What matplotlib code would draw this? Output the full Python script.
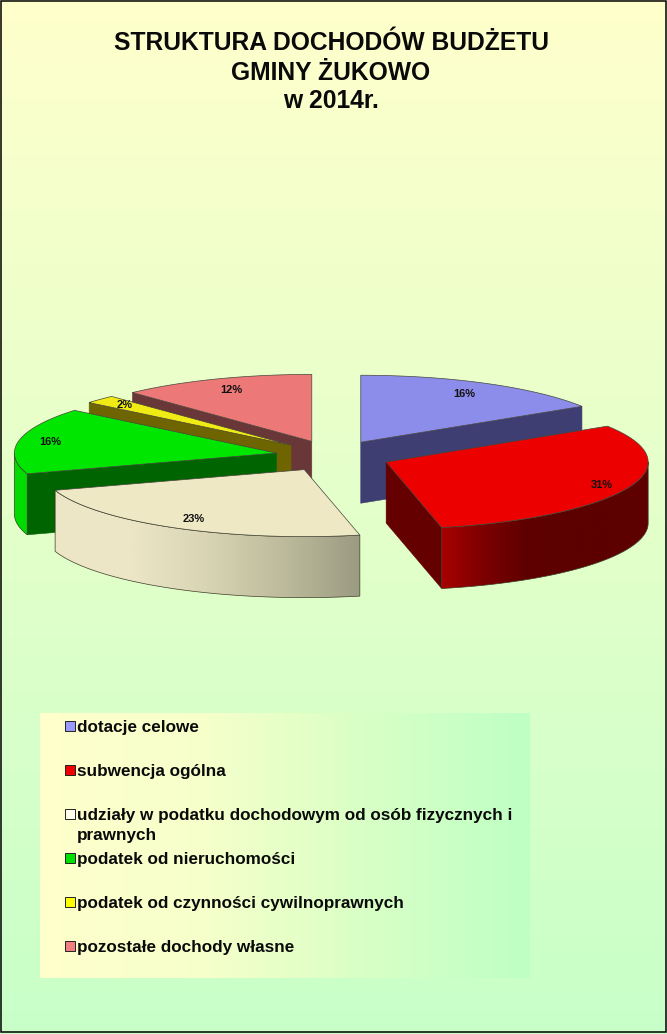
import numpy as np
import matplotlib
matplotlib.use("Agg")
import matplotlib.pyplot as plt
from matplotlib.patches import Polygon, Rectangle
from matplotlib.colors import LinearSegmentedColormap

plt.rcParams['font.family'] = ['Liberation Sans', 'DejaVu Sans']

W, H = 667, 1034

title_lines = ["STRUKTURA DOCHODÓW BUDŻETU", "GMINY ŻUKOWO", "w 2014r."]
categories = ["dotacje celowe", "subwencja ogólna",
              "udziały w podatku dochodowym od osób fizycznych i\nprawnych",
              "podatek od nieruchomości", "podatek od czynności cywilnoprawnych",
              "pozostałe dochody własne"]
values = [16.0, 30.6, 23.4, 16.0, 2.0, 12.0]

top_colors = ["#8C8CEB", "#EC0000", "#EEE8C4", "#00E600", "#F0EB14", "#EC7878"]
wall_colors = ["#3E3E73", "#640000", "#A0A082", "#006400", "#6E6400", "#693737"]
rim_stops = [["#3E3E73", "#3E3E73"],
             ["#A80000", "#7C0000", "#600000", "#5C0000", "#5C0000", "#600000"],
             ["#ECE6C6", "#ECE6C6", "#D8D4B4", "#BDBB9C", "#9B9B82"],
             ["#00DC00", "#00DC00"],
             ["#6E6400", "#6E6400"],
             ["#693737", "#693737"]]
swatch_colors = ["#9999FF", "#F00000", "#FFFFF0", "#00E000", "#FFFF00", "#F08080"]
label_r = [0.82, 0.89, 0.85, 0.88, 0.87, 0.83]
draw_order = [0, 5, 4, 3, 1, 2]

# projection of the pie on the page (pixels)
CX, CY = 333, 456          # pie centre
AX, BX = 262, 67           # ellipse semi-axes
EX, EY = 57.6, 15.7        # explosion offset
DEPTH = 61

fig = plt.figure(figsize=(W / 100, H / 100), dpi=100)
ax = fig.add_axes([0, 0, 1, 1])
ax.set_axis_off()


def gradient(extent, stops, horizontal, zorder, clip=None):
    cmap = LinearSegmentedColormap.from_list("g", stops)
    ramp = np.linspace(0, 1, 256)
    arr = ramp[None, :] if horizontal else ramp[:, None]
    im = ax.imshow(arr, extent=extent, cmap=cmap, aspect='auto', zorder=zorder,
                   interpolation='bilinear', vmin=0, vmax=1)
    if clip is not None:
        im.set_clip_path(clip)
    return im


# page background and frame
gradient((0, W, H, 0), ["#FFFFCC", "#C8FFC8"], False, 0)
# legend panel
gradient((40, 530, 978, 713), ["#FFFFCC", "#F6FFCA", "#D8FFC6", "#BEFFC4"], True, 1)

shares = np.array(values) / sum(values) * 360
ends = np.cumsum(shares)
starts = ends - shares


def pt(theta_deg, r=1.0):
    t = np.radians(theta_deg)
    return np.sin(t) * AX * r, -np.cos(t) * BX * r


z = 2
for i in draw_order:
    s, e = starts[i], ends[i]
    m = np.radians((s + e) / 2)
    ox, oy = CX + EX * np.sin(m), CY - EY * np.cos(m)
    th = np.linspace(s, e, 160)
    dx, dy = pt(th)
    arc = np.column_stack([ox + dx, oy + dy])
    apex = np.array([ox, oy])

    # cut walls facing the viewer
    for ang, vis in ((s, np.sin(np.radians(s)) < 0), (e, np.sin(np.radians(e)) > 0)):
        if vis:
            cx_, cy_ = pt(ang)
            c = apex + [cx_, cy_]
            ax.add_patch(Polygon([apex, c, c + [0, DEPTH], apex + [0, DEPTH]], closed=True,
                                 facecolor=wall_colors[i], edgecolor=wall_colors[i], lw=0.4, zorder=z))
            z += 0.1

    # outer rim, front half only
    lo, hi = max(s, 90), min(e, 270)
    if hi > lo:
        tr = np.linspace(lo, hi, 160)
        rx, ry = pt(tr)
        top = np.column_stack([ox + rx, oy + ry])
        poly = np.vstack([top, (top + [0, DEPTH])[::-1]])
        clip = Polygon(poly, closed=True, transform=ax.transData, facecolor='none', edgecolor='none')
        ax.add_patch(clip)
        x0, x1 = poly[:, 0].min(), poly[:, 0].max()
        y0, y1 = poly[:, 1].min(), poly[:, 1].max()
        gradient((x0, x1, y1, y0), rim_stops[i], True, z, clip)
        z += 0.1
        ax.add_patch(Polygon(poly, closed=True, facecolor='none', edgecolor="#3C3C28", lw=0.5, zorder=z))
        z += 0.1

    # top face
    ax.add_patch(Polygon(np.vstack([apex, arc]), closed=True, facecolor=top_colors[i],
                         edgecolor="#46463C", lw=0.5, zorder=z))
    z += 0.1

# data labels above every slice
for i in range(len(values)):
    m = (starts[i] + ends[i]) / 2
    t = np.radians(m)
    ox, oy = CX + EX * np.sin(t), CY - EY * np.cos(t)
    lx, ly = pt(m, label_r[i])
    ax.text(ox + lx, oy + ly, f"{values[i]:.0f}%", ha='center', va='center', fontsize=8,
            fontweight='bold', color='#111111', zorder=50)

# title
for line, y in zip(title_lines, [50, 80, 108.5]):
    ax.text(331, y, line, ha='center', va='baseline', fontsize=17.7, fontweight='bold',
            color='#0A0A0A', zorder=50)

# legend entries
row_y = 732
for name, col in zip(categories, swatch_colors):
    ax.add_patch(Rectangle((65, row_y - 11), 10, 10, facecolor=col, edgecolor='#222222', lw=0.7, zorder=50))
    for k, part in enumerate(name.split("\n")):
        ax.text(77, row_y + 20 * k, part, ha='left', va='baseline', fontsize=12.3,
                fontweight='bold', color='#0A0A0A', zorder=50)
    row_y += 44

ax.add_patch(Rectangle((1, 1), W - 2.5, H - 3, facecolor='none', edgecolor='black', lw=1.1, zorder=60))

ax.set_xlim(0, W)
ax.set_ylim(H, 0)
fig.savefig("out.png", dpi=100)
